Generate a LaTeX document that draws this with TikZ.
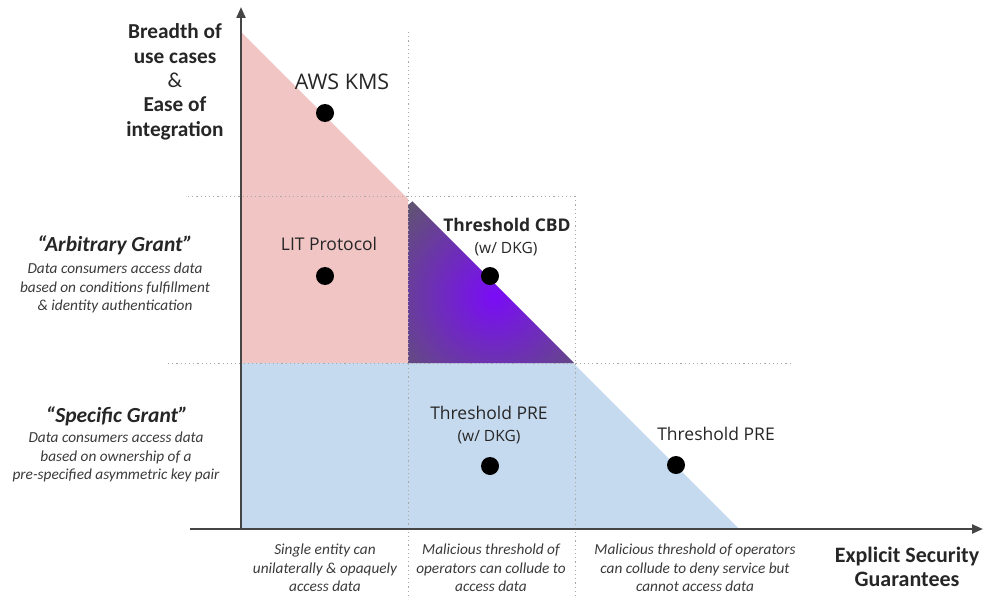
\documentclass[tikz,border=0pt]{standalone}
\usepackage{fontspec}
\setmainfont{Carlito}
\newfontfamily\ptfont{Open Sans}
\usetikzlibrary{arrows.meta}
\definecolor{pinkfill}{HTML}{F2C5C5}
\definecolor{bluefill}{HTML}{C6DAEF}
\definecolor{axisgray}{HTML}{454545}
\definecolor{dotgray}{HTML}{A8A8A8}
\definecolor{pviolet}{HTML}{7A0CF7}
\definecolor{pouter}{HTML}{605470}
\definecolor{txtgray}{HTML}{3A3A3A}
\tikzset{
  axisline/.style={draw=axisgray, line width=2.2pt, -{Triangle[length=11pt,width=9pt]}},
  gridline/.style={draw=dotgray, line width=1pt, dash pattern=on 1.2pt off 3pt},
  dotmark/.style={circle, fill=black, inner sep=0pt, minimum size=18pt},
  ptlabel/.style={font=\ptfont\fontsize{17.5}{22}\selectfont, text=black!85, align=center},
  sublabel/.style={font=\ptfont\fontsize{15.5}{18}\selectfont, text=black!85, align=center},
  axlabel/.style={font=\bfseries\fontsize{21.3}{25}\selectfont, text=black!85, align=center},
  granttitle/.style={font=\bfseries\itshape\fontsize{21.5}{24}\selectfont, text=black!85},
  desc/.style={font=\itshape\fontsize{15.3}{18.5}\selectfont, text=txtgray, align=center},
}
\begin{document}
\begin{tikzpicture}[x=1pt,y=-1pt]
\useasboundingbox (0,0) rectangle (984,599);
% regions
\fill[pinkfill] (241,32) -- (408,199) -- (408,363) -- (241,363) -- cycle;
\fill[bluefill] (241,363) -- (573,363) -- (739,529) -- (241,529) -- cycle;
\begin{scope}
  \clip (408,197) -- (574,363) -- (408,363) -- cycle;
  \shade[inner color=pviolet, outer color=pouter] (494,296) circle (125);
\end{scope}
% dotted grid
\coordinate (h1a) at (188,196); \coordinate (h1b) at (575,196);
\coordinate (h2a) at (168,363); \coordinate (h2b) at (790,363);
\coordinate (v1a) at (408,32);  \coordinate (v1b) at (408,599);
\coordinate (v2a) at (575,196); \coordinate (v2b) at (575,599);
\draw[gridline] (h1a) -- (h1b);
\draw[gridline] (h2a) -- (h2b);
\draw[gridline] (v1a) -- (v1b);
\draw[gridline] (v2a) -- (v2b);
% axes
\coordinate (yo) at (241,530); \coordinate (yt) at (241,7);
\coordinate (xo) at (190,529); \coordinate (xt) at (983,529);
\draw[axisline] (yo) -- (yt);
\draw[axisline] (xo) -- (xt);
% dots
\node[dotmark] (kms) at (325,113) {};
\node[dotmark] (lit) at (325,276) {};
\node[dotmark] (cbd) at (490,276) {};
\node[dotmark] (pred) at (490,466) {};
\node[dotmark] (pre) at (676,465) {};
% point labels
\node[ptlabel, font=\ptfont\fontsize{21.5}{24}\selectfont] (lkms) at (342,82) {AWS KMS};
\node[ptlabel] (llit) at (329,244) {LIT Protocol};
\node[ptlabel, font=\ptfont\bfseries\fontsize{17.5}{22}\selectfont] (lcbd) at (507,225) {Threshold CBD};
\node[sublabel] (lcbd2) at (506,249) {(w/ DKG)};
\node[ptlabel] (lpred) at (489,413) {Threshold PRE};
\node[sublabel] (lpred2) at (489,437) {(w/ DKG)};
\node[ptlabel] (lpre) at (716,434) {Threshold PRE};
% axis labels
\node[axlabel] (ylab) at (175,82) {Breadth of\\use cases\\[-1pt]{\mdseries\&}\\[-1pt]Ease of\\integration};
\node[axlabel, font=\bfseries\fontsize{22}{24}\selectfont] (xlab) at (907,567) {Explicit Security\\Guarantees};
% grant labels
\node[granttitle] (ag) at (115,245) {“Arbitrary Grant”};
\node[desc] (agd) at (115,288) {Data consumers access data\\based on conditions fulfillment\\\& identity authentication};
\node[granttitle] (sg) at (117,416) {“Specific Grant”};
\node[desc] (sgd) at (116,457) {Data consumers access data\\based on ownership of a\\pre-specified asymmetric key pair};
% bottom labels
\node[desc] (b1) at (325,568) {Single entity can\\unilaterally \& opaquely\\access data};
\node[desc] (b2) at (491,568) {Malicious threshold of\\operators can collude to\\access data};
\node[desc] (b3) at (695,568) {Malicious threshold of operators\\can collude to deny service but\\cannot access data};
\end{tikzpicture}
\end{document}
